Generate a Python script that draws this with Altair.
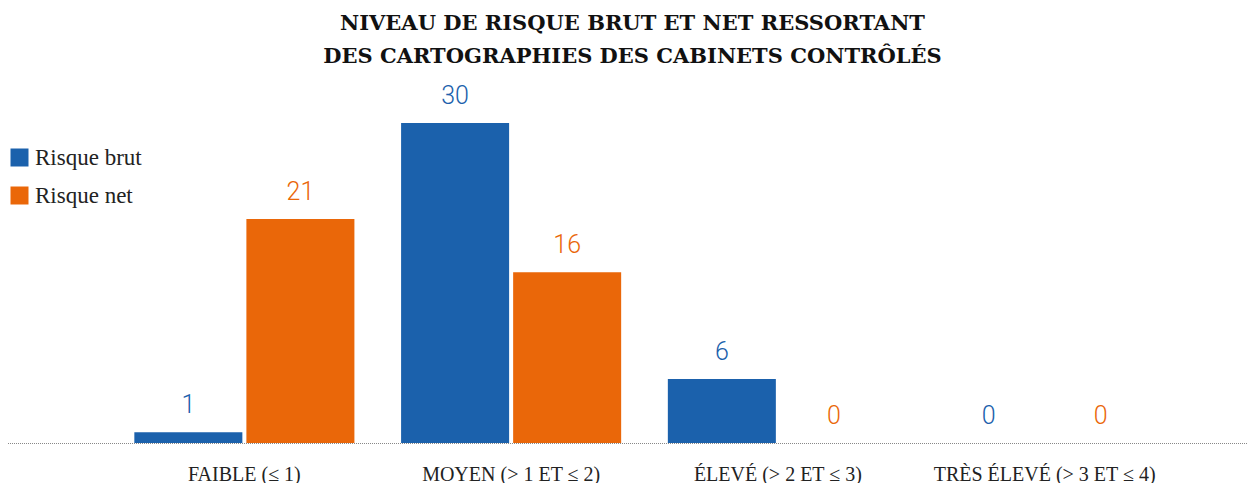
import altair as alt
import pandas as pd

categories = ["FAIBLE (≤ 1)", "MOYEN (> 1 ET ≤ 2)", "ÉLEVÉ (> 2 ET ≤ 3)", "TRÈS ÉLEVÉ (> 3 ET ≤ 4)"]
series = ["Risque brut", "Risque net"]
brut = [1, 30, 6, 0]
net = [21, 16, 0, 0]
colors = ["#1b61ac", "#ea6709"]

rows = []
for c, b, n in zip(categories, brut, net):
    rows.append({"cat": c, "serie": series[0], "val": b})
    rows.append({"cat": c, "serie": series[1], "val": n})
df = pd.DataFrame(rows)

W, H = 1067, 320

xscale = alt.Scale(domain=categories, paddingInner=0.175, paddingOuter=0.0875)
xoff = alt.Scale(domain=series, paddingInner=0.036)
yscale = alt.Scale(domain=[0, 30], nice=False)
cscale = alt.Scale(domain=series, range=colors)

base = alt.Chart(df).encode(
    x=alt.X("cat:N", scale=xscale, sort=categories, title=None,
            axis=alt.Axis(labelAngle=0, ticks=False, domain=False, labelPadding=21, labelLimit=500,
                          labelFont="Liberation Serif", labelFontSize=20, labelColor="#222")),
    xOffset=alt.XOffset("serie:N", scale=xoff),
)

bars = base.mark_bar().encode(
    y=alt.Y("val:Q", scale=yscale, axis=None),
    color=alt.Color("serie:N", scale=cscale, title=None,
                    legend=alt.Legend(orient="none", legendX=-103, legendY=23,
                                      symbolType="square", symbolSize=324, symbolStrokeWidth=0,
                                      labelFont="Liberation Serif", labelFontSize=23,
                                      labelColor="#222", rowPadding=14, labelOffset=4)),
)

labels = base.mark_text(dy=-27, font="Roboto", fontWeight=300,
                        fontSize=25, baseline="middle").encode(
    y=alt.Y("val:Q", scale=yscale),
    text="val:Q",
    color=alt.Color("serie:N", scale=cscale, legend=None),
)

rule = alt.Chart(pd.DataFrame({"a": [0]})).mark_rule(color="#888", strokeDash=[1, 1], strokeWidth=1).encode(
    x=alt.value(-103), x2=alt.value(W + 90), y=alt.value(H + 0.5)
)

chart = alt.layer(bars, labels, rule).properties(
    width=W, height=H,
    autosize=alt.AutoSizeParams(type="none"),
    padding={"left": 103, "top": 115, "right": 69, "bottom": 40},
    title=alt.TitleParams(
        ["NIVEAU DE RISQUE BRUT ET NET RESSORTANT", "DES CARTOGRAPHIES DES CABINETS CONTRÔLÉS"],
        font="DejaVu Serif", fontSize=21, fontWeight="bold", color="#111",
        anchor="middle", offset=17, dx=-12, lineHeight=33,
    ),
).configure_view(stroke=None)

chart.save("out.html", embed_options={"renderer": "svg", "actions": False})
